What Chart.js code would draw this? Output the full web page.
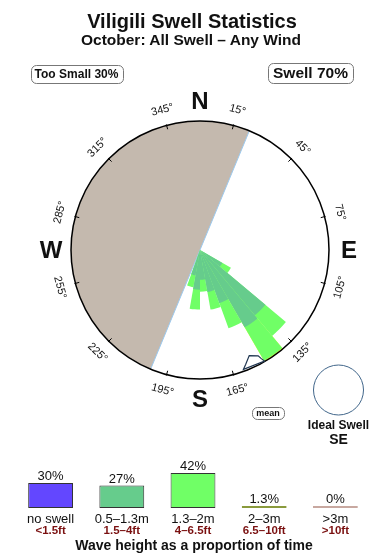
<!DOCTYPE html>
<html>
<head>
<meta charset="utf-8">
<script src="https://cdn.jsdelivr.net/npm/chart.js@4.4.0/dist/chart.umd.min.js"></script>
<style>
  body { margin: 0; background: #fff; }
  #wrap { position: relative; width: 390px; height: 560px; overflow: hidden; font-family: "Liberation Sans", Arial, Helvetica, sans-serif; }
  canvas { position: absolute; left: 0; }
  #rose { top: 0; }
  #bars { top: 440px; }
  .txt { position: absolute; width: 390px; text-align: center; color: #111; font-weight: bold; white-space: nowrap; }
</style>
</head>
<body>
<div id="wrap">
  <canvas id="rose" width="390" height="560"></canvas>
  <canvas id="bars" width="390" height="120"></canvas>
  <div class="txt" style="left:-3px;top:11px;font-size:20px;line-height:20px">Viligili Swell Statistics</div>
  <div class="txt" style="left:-4px;top:32px;font-size:15.5px;line-height:15.5px">October: All Swell – Any Wind</div>
  <div class="txt" style="left:-1px;top:538px;font-size:14px;line-height:14px">Wave height as a proportion of time</div>
</div>
<script>
// swell rose: 10 degree direction bins (bin start), length of each height band
const binWidth = 10;
const binStart = [120, 130, 140, 150, 160, 170, 180, 190];
const band05to13 = [2.6, 8.6, 9.0, 5.7, 4.3, 3.0, 4.0, 2.6];   // 0.5-1.3m
const band13to2 = [1.0, 2.7, 3.9, 2.7, 1.8, 1.2, 2.0, 1.2];    // 1.3-2m
const band2to3 = [0, 0, 0.1, 0, 0, 0, 0, 0];                  // 2-3m
const rMax = 13;

// sheltered directions (grey), mean direction, ideal swell
const shadowFrom = 202.5;
const shadowTo = 22.5;
const meanDir = 155;
const idealSwell = 'SE';
const tooSmallPct = 30;
const swellPct = 70;

// dial
const dialTicks = [15, 45, 75, 105, 135, 165, 195, 225, 255, 285, 315, 345];
const compassNames = ['N', 'E', 'S', 'W'];
const compassBearings = [0, 90, 180, 270];

// wave height summary
const heightClasses = ['no swell', '0.5–1.3m', '1.3–2m', '2–3m', '>3m'];
const heightFeet = ['<1.5ft', '1.5–4ft', '4–6.5ft', '6.5–10ft', '>10ft'];
const heightShare = [30, 27, 42, 1.3, 0];

const FONT = '"Liberation Sans", Arial, Helvetica, sans-serif';
const bandColors = ['#66cc8c', '#70ff66', '#ffff33'];
const classFill = ['#6347ff', '#66cc8c', '#70ff66', '#ffff33', '#d4b8b0'];
const classBorder = ['#333', '#333', '#333', '#8a9a3c', '#c8a8a0'];

const rad = d => d * Math.PI / 180;
const polar = (sc, bearing, dist) => ({
  x: sc.xCenter + dist * Math.sin(rad(bearing)),
  y: sc.yCenter - dist * Math.cos(rad(bearing))
});

// spread the bins over the full circle, stacked outer radius per band
const roseLabels = [];
for (let b = 0; b < 360; b += binWidth) roseLabels.push(b + '°');
const spread = vals => {
  const out = roseLabels.map(() => 0);
  binStart.forEach((b, i) => { out[b / binWidth] = vals[i]; });
  return out;
};
const stack1 = band05to13;
const stack2 = band05to13.map((v, i) => v + band13to2[i]);
const stack3 = stack2.map((v, i) => band2to3[i] > 0 ? v + band2to3[i] : 0);

const roseBackground = {
  id: 'roseBackground',
  beforeDatasetsDraw(chart) {
    const sc = chart.scales.r, ctx = chart.ctx;
    const R = sc.getDistanceFromCenterForValue(rMax);
    ctx.save();
    ctx.fillStyle = '#c4b9ae';
    ctx.beginPath();
    ctx.moveTo(sc.xCenter, sc.yCenter);
    ctx.arc(sc.xCenter, sc.yCenter, R, rad(shadowFrom - 90), rad(shadowTo + 270));
    ctx.closePath();
    ctx.fill();
    const a = polar(sc, shadowFrom, R), b = polar(sc, shadowTo, R);
    ctx.strokeStyle = '#9cc9ee';
    ctx.lineWidth = 1;
    ctx.beginPath(); ctx.moveTo(a.x, a.y); ctx.lineTo(b.x, b.y); ctx.stroke();
    ctx.restore();
  }
};

function labelBox(ctx, text, x, y, font, padX, h) {
  ctx.font = font;
  const w = ctx.measureText(text).width + 2 * padX;
  ctx.fillStyle = '#fff';
  ctx.strokeStyle = '#777';
  ctx.lineWidth = 1;
  ctx.beginPath();
  ctx.roundRect(Math.round(x - w / 2) + 0.5, Math.round(y - h / 2) + 0.5, Math.round(w), h, 5);
  ctx.fill(); ctx.stroke();
  ctx.fillStyle = '#111';
  ctx.textAlign = 'center';
  ctx.textBaseline = 'middle';
  ctx.fillText(text, x, y + 1);
}

const roseDial = {
  id: 'roseDial',
  afterDatasetsDraw(chart) {
    const sc = chart.scales.r, ctx = chart.ctx;
    const R = sc.getDistanceFromCenterForValue(rMax);
    ctx.save();
    // rim
    ctx.strokeStyle = '#000';
    ctx.lineWidth = 1.5;
    ctx.beginPath(); ctx.arc(sc.xCenter, sc.yCenter, R, 0, 2 * Math.PI); ctx.stroke();

    // mean direction marker
    const n = [-Math.sin(rad(meanDir)), Math.cos(rad(meanDir))];   // inward
    const t = [Math.cos(rad(meanDir)), Math.sin(rad(meanDir))];    // along rim
    const base = polar(sc, meanDir, R);
    const shape = [[11, 2.5], [7, 6], [0, 12.5], [-8, 8.5], [-9.5, 5], [-11.5, 1]];
    ctx.beginPath();
    shape.forEach(([tt, uu], i) => {
      const x = base.x + tt * t[0] + uu * n[0], y = base.y + tt * t[1] + uu * n[1];
      i ? ctx.lineTo(x, y) : ctx.moveTo(x, y);
    });
    ctx.closePath();
    ctx.fillStyle = '#fff'; ctx.fill();
    ctx.strokeStyle = '#1f3550'; ctx.lineWidth = 1.2; ctx.stroke();

    // ticks + degree labels
    ctx.strokeStyle = '#000';
    ctx.lineWidth = 1;
    ctx.fillStyle = '#111';
    ctx.font = '11px ' + FONT;
    ctx.textAlign = 'center';
    ctx.textBaseline = 'middle';
    dialTicks.forEach(d => {
      const p1 = polar(sc, d, R - 4), p2 = polar(sc, d, R + 1);
      ctx.beginPath(); ctx.moveTo(p1.x, p1.y); ctx.lineTo(p2.x, p2.y); ctx.stroke();
      const p = polar(sc, d, R + 16);
      ctx.save();
      ctx.translate(p.x, p.y);
      ctx.rotate(rad(d > 90 && d < 270 ? d - 180 : d));
      ctx.fillText(d + '°', 0, 0);
      ctx.restore();
    });

    // compass points
    ctx.font = 'bold 24px ' + FONT;
    compassNames.forEach((c, i) => {
      const p = polar(sc, compassBearings[i], R + 20);
      ctx.fillText(c, p.x, p.y + 1);
    });

    // annotations
    labelBox(ctx, 'Too Small ' + tooSmallPct + '%', 76.5, 74, 'bold 12px ' + FONT, 4, 18);
    labelBox(ctx, 'Swell ' + swellPct + '%', 310.5, 73, 'bold 15.5px ' + FONT, 5, 20);
    labelBox(ctx, 'mean', 268, 412.5, 'bold 9px ' + FONT, 4, 12);

    ctx.strokeStyle = '#41668a';
    ctx.lineWidth = 1;
    ctx.beginPath(); ctx.arc(338.5, 390, 25, 0, 2 * Math.PI); ctx.stroke();
    ctx.fillStyle = '#111';
    ctx.textAlign = 'center';
    ctx.textBaseline = 'middle';
    ctx.font = 'bold 12px ' + FONT;
    ctx.fillText('Ideal Swell', 338.5, 426);
    ctx.font = 'bold 14px ' + FONT;
    ctx.fillText(idealSwell, 338.5, 440.5);
    ctx.restore();
  }
};

new Chart(document.getElementById('rose'), {
  type: 'polarArea',
  data: {
    labels: roseLabels,
    datasets: [
      { data: spread(stack1), backgroundColor: bandColors[0] },
      { data: spread(stack2), backgroundColor: bandColors[1] },
      { data: spread(stack3), backgroundColor: bandColors[2] }
    ]
  },
  options: {
    responsive: false,
    animation: false,
    layout: { padding: { left: 71, right: 61, top: 121, bottom: 181 } },
    elements: { arc: { borderWidth: 0 } },
    plugins: { legend: { display: false }, tooltip: { enabled: false } },
    scales: {
      r: {
        min: 0, max: rMax, startAngle: 0,
        ticks: { display: false },
        grid: { display: false },
        angleLines: { display: false },
        pointLabels: { display: false }
      }
    }
  },
  plugins: [roseBackground, roseDial]
});

const barText = {
  id: 'barText',
  afterDatasetsDraw(chart) {
    const ctx = chart.ctx;
    const meta = chart.getDatasetMeta(0);
    ctx.save();
    ctx.textAlign = 'center';
    meta.data.forEach((bar, i) => {
      ctx.textBaseline = 'alphabetic';
      ctx.fillStyle = '#111';
      ctx.font = '13px ' + FONT;
      ctx.fillText(heightShare[i] + '%', bar.x, bar.y - 3);
      ctx.font = '13px ' + FONT;
      ctx.fillText(heightClasses[i], bar.x, 82.5);
      ctx.fillStyle = '#7a1010';
      ctx.font = 'bold 11.5px ' + FONT;
      ctx.fillText(heightFeet[i], bar.x, 93.5);
    });
    ctx.restore();
  }
};

new Chart(document.getElementById('bars'), {
  type: 'bar',
  data: {
    labels: heightClasses,
    datasets: [{
      data: heightShare,
      backgroundColor: classFill,
      borderColor: classBorder,
      borderWidth: 1,
      borderSkipped: false,
      minBarLength: 2,
      categoryPercentage: 1,
      barPercentage: 0.63
    }]
  },
  options: {
    responsive: false,
    animation: false,
    layout: { padding: { left: 15, right: 19, top: 28, bottom: 52 } },
    plugins: { legend: { display: false }, tooltip: { enabled: false } },
    scales: {
      x: { display: false },
      y: { display: false, min: 0, max: 48 }
    }
  },
  plugins: [barText]
});
</script>
</body>
</html>
